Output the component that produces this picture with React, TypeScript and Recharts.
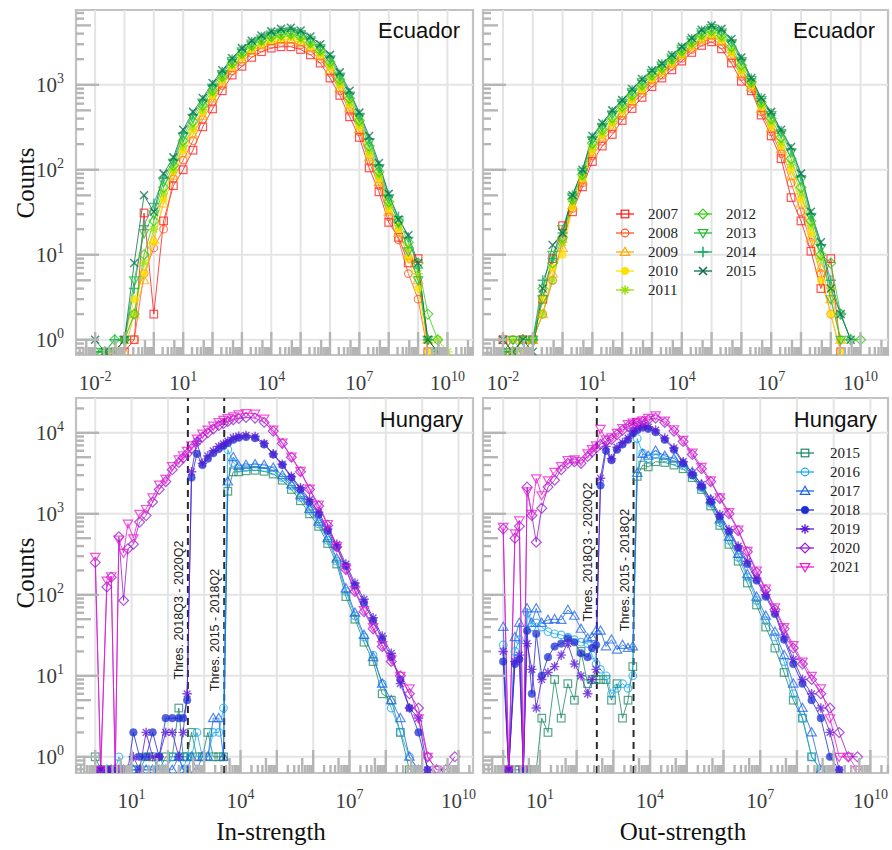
import React from 'react';
import { LineChart, Line, XAxis, YAxis, ReferenceLine, ReferenceArea } from 'recharts';

const SERIF = "'Liberation Serif', 'Times New Roman', 'DejaVu Serif', serif";
const SANS = "'Liberation Sans', Arial, 'DejaVu Sans', sans-serif";
const TICK_COLOR = '#b5b5b5';
const GRID_COLOR = '#e4e4e4';
const FRAME_COLOR = '#c2c2c2';

// ---------------- Ecuador (log10 of strength for each bin) ----------------
const EC_LOGX = [-2, -1.667, -1.333, -1, -0.667, -0.333, 0, 0.333, 0.667, 1, 1.333, 1.667, 2, 2.333, 2.667, 3, 3.333, 3.667, 4, 4.333, 4.667, 5, 5.333, 5.667, 6, 6.333, 6.667, 7, 7.333, 7.667, 8, 8.333, 8.667, 9, 9.333, 9.667, 10];
const EC_YEARS = ['2007', '2008', '2009', '2010', '2011', '2012', '2013', '2014', '2015'];
const EC_COLORS = ['#ff1a1a', '#ff5522', '#ffaa00', '#ffe100', '#99e000', '#33cc11', '#22bb33', '#11aa66', '#0b6e4f'];
const EC_SHAPES = ['square', 'circle', 'triangle', 'dot', 'star', 'diamond', 'tridown', 'plus', 'cross'];

const EC_IN_2007 = [null, null, null, 0, 1, 31, 2, 25, 65, 100, 170, 320, 520, 850, 1300, 1650, 2100, 2450, 2700, 2800, 2800, 2600, 2250, 1800, 1200, 750, 420, 240, 105, 55, 24, 16, 8, 9, 0, null, null];
const EC_IN_2008 = [null, null, 0, 1, 1, 6, 12, 20, 78, 130, 220, 390, 620, 980, 1450, 1850, 2350, 2700, 3000, 3150, 3150, 2950, 2500, 2000, 1400, 850, 490, 280, 125, 65, 28, 15, 6, 3, 0, null, null];
const EC_IN_2009 = [null, null, 0, 0, 2, 5, 15, 40, 85, 155, 260, 430, 690, 1050, 1550, 2000, 2500, 2900, 3200, 3350, 3400, 3150, 2700, 2150, 1500, 920, 540, 300, 140, 72, 32, 18, 10, 5, 1, 0, null];
const EC_IN_2010 = [null, 0, 0, 1, 3, 6, 14, 45, 95, 170, 290, 470, 740, 1120, 1620, 2100, 2600, 3000, 3350, 3500, 3550, 3300, 2800, 2250, 1600, 980, 580, 320, 150, 78, 34, 20, 9, 4, 0, null, null];
const EC_IN_2011 = [null, 0, 0, 1, 2, 8, 20, 52, 100, 190, 320, 510, 790, 1170, 1700, 2200, 2700, 3150, 3500, 3650, 3750, 3450, 2950, 2400, 1700, 1050, 620, 350, 165, 85, 38, 22, 12, 6, 1, 1, 0];
const EC_IN_2012 = [0, 0, 1, 1, 2, 10, 25, 62, 112, 220, 370, 570, 860, 1260, 1800, 2350, 2900, 3350, 3700, 3900, 4000, 3700, 3150, 2550, 1850, 1150, 690, 380, 190, 95, 42, 25, 14, 8, 2, 1, null];
const EC_IN_2013 = [0, 0, 0, 1, 5, 18, 30, 72, 122, 245, 410, 620, 930, 1340, 1900, 2480, 3050, 3500, 3900, 4150, 4250, 3950, 3350, 2700, 2000, 1250, 750, 420, 210, 105, 46, 24, 11, 5, 1, 0, null];
const EC_IN_2014 = [0, 0, 1, 1, 4, 22, 40, 80, 130, 270, 445, 660, 990, 1410, 1980, 2600, 3180, 3650, 4080, 4350, 4480, 4150, 3520, 2850, 2120, 1320, 800, 450, 230, 112, 50, 28, 16, 7, 1, 0, null];
const EC_IN_2015 = [1, 0, 0, 1, 8, 50, 32, 90, 140, 295, 480, 700, 1050, 1480, 2050, 2700, 3300, 3800, 4250, 4550, 4700, 4350, 3700, 3000, 2250, 1400, 850, 470, 250, 120, 52, 26, 17, 8, 1, 0, null];

const EC_OUT_2007 = [1, 0, 1, 1, 3, 9, 22, 32, 63, 125, 190, 260, 380, 525, 710, 950, 1200, 1500, 1900, 2400, 2900, 3200, 2650, 1800, 1100, 850, 440, 250, 135, 47, 25, 11, 4, 9, 0, null, null];
const EC_OUT_2008 = [0, 1, 1, 1, 2, 5, 15, 35, 70, 145, 215, 300, 430, 590, 790, 1050, 1300, 1650, 2050, 2600, 3150, 3500, 2950, 2050, 1250, 900, 480, 280, 155, 70, 32, 14, 6, 2, 0, null, null];
const EC_OUT_2009 = [null, 0, 1, 1, 2, 6, 12, 38, 75, 160, 240, 330, 460, 630, 850, 1120, 1380, 1750, 2200, 2750, 3350, 3750, 3200, 2250, 1350, 950, 520, 310, 175, 85, 40, 16, 7, 3, 1, null, null];
const EC_OUT_2010 = [null, 0, 0, 1, 3, 7, 10, 36, 78, 170, 255, 350, 490, 660, 880, 1170, 1440, 1800, 2250, 2850, 3500, 3900, 3350, 2400, 1450, 990, 550, 330, 190, 100, 45, 18, 5, 2, 0, null, null];
const EC_OUT_2011 = [1, 1, 1, 1, 2, 5, 14, 42, 82, 185, 270, 370, 520, 700, 930, 1230, 1500, 1880, 2350, 2950, 3650, 4050, 3550, 2550, 1550, 1030, 580, 360, 210, 115, 52, 22, 9, 4, 1, null, null];
const EC_OUT_2012 = [0, 0, 1, 1, 4, 8, 16, 45, 88, 205, 295, 410, 560, 760, 1000, 1300, 1580, 2000, 2500, 3150, 3900, 4350, 3800, 2800, 1700, 1080, 620, 400, 240, 135, 62, 25, 10, 8, 2, 1, 1];
const EC_OUT_2013 = [0, 1, 0, 1, 3, 10, 20, 48, 95, 225, 320, 450, 610, 820, 1080, 1380, 1680, 2100, 2650, 3350, 4150, 4650, 4150, 3100, 1900, 1140, 660, 440, 270, 160, 75, 28, 12, 3, 1, null, null];
const EC_OUT_2014 = [0, 0, 1, 1, 5, 9, 18, 50, 98, 240, 340, 480, 640, 860, 1130, 1440, 1740, 2180, 2720, 3450, 4300, 4850, 4350, 3300, 2000, 1180, 690, 460, 285, 175, 85, 30, 13, 5, 2, 1, null];
const EC_OUT_2015 = [1, 0, 1, 0, 4, 13, 18, 50, 100, 250, 355, 500, 660, 890, 1170, 1480, 1780, 2240, 2800, 3550, 4450, 5000, 4550, 3450, 2100, 1200, 700, 480, 295, 185, 90, 32, 14, 4, 2, 1, null];

// ---------------- Hungary ----------------
const HU_LOGX = [0.0, 0.15, 0.32, 0.44, 0.55, 0.65, 0.78, 0.9, 1.05, 1.22, 1.4, 1.58, 1.76, 1.94, 2.12, 2.3, 2.42, 2.53, 2.65, 2.8, 2.95, 3.1, 3.25, 3.4, 3.53, 3.65, 3.8, 3.95, 4.15, 4.4, 4.65, 4.9, 5.15, 5.4, 5.65, 5.9, 6.15, 6.4, 6.65, 6.9, 7.15, 7.4, 7.65, 7.9, 8.15, 8.4, 8.65, 8.9, 9.15, 9.4, 9.65, 9.9];
const HU_YEARS = ['2015', '2016', '2017', '2018', '2019', '2020', '2021'];
const HU_COLORS = ['#1b8a66', '#19aaf0', '#1f66e6', '#1c2fd1', '#5a1ad6', '#9a1ad0', '#f01ad2'];
const HU_SHAPES = ['square', 'circle', 'triangle', 'dot', 'star', 'diamond', 'tridown'];

const HU_IN_2015 = [1, 0, 0, 0, 0, 0, 0, 0, 0, 0, 1, 1, 0, 1, 1, 4, 1, 1, 2, 1, 1, 2, 1, 1, 1, 1900, 3300, 3300, 3400, 3450, 3350, 3100, 2600, 2000, 1450, 1000, 700, 430, 240, 95, 50, 26, 15, 6, 5, 2, 0, null, null, null, null, null];
const HU_IN_2016 = [0, 0, 0, 0, 0, 1, 0, 0, 0, 0, 0, 0, 1, 0, 1, 1, 0, 1, 1, 2, 1, 1, 2, 2, 4, 6200, 4300, 3700, 3750, 3800, 3700, 3400, 2800, 2200, 1600, 1100, 750, 470, 260, 110, 55, 30, 18, 8, 4, 2, 1, 0, null, null, null, null];
const HU_IN_2017 = [0, 0, 0, 0, 0, 0, 0, 0, 0, 0, 0, 0, 0, 0, 0, 1, 0, 0, 1, 0, 1, 1, 3, 3, 1, 2500, 5000, 3900, 4000, 4100, 4000, 3700, 3000, 2300, 1700, 1150, 800, 500, 280, 120, 60, 32, 17, 8, 5, 3, 1, 0, null, null, null, null];
const HU_IN_2018 = [0, 0, 0, 0, 0, 0, 0, 0, 2, 1, 1, 2, 1, 3, 3, 3, 3, 5, 2800, 5500, 4000, 4800, 5600, 6300, 6900, 7500, 8200, 8700, 8900, 8600, 7200, 5400, 4000, 2800, 2000, 1400, 980, 620, 390, 225, 130, 80, 48, 28, 17, 9, 4, 2, 0, null, null, null];
const HU_IN_2019 = [0, 0, 0, 0, 0, 0, 0, 0, 1, 0, 2, 1, 1, 2, 2, 1, 2, 6, 3300, 7800, 4200, 5200, 6000, 6800, 7300, 7900, 8700, 9100, 9300, 9000, 7400, 5500, 4100, 2900, 2100, 1500, 1050, 650, 420, 240, 140, 88, 52, 31, 19, 8, 4, 3, 0, null, null, null];
const HU_IN_2020 = [250, 0, 125, 165, 0, 520, 85, 370, 420, 790, 950, 1400, 2000, 2500, 3500, 4300, 4900, 5500, 6400, 7700, 8900, 10000, 11200, 12300, 13000, 13800, 14500, 15000, 15500, 15200, 13500, 10500, 7400, 5000, 3300, 2000, 1250, 720, 390, 205, 110, 62, 38, 23, 15, 10, 6, 4, 1, 0, 0, 1];
const HU_IN_2021 = [295, 0, 150, 170, 0, 480, 330, 760, 500, 1000, 1150, 1600, 2300, 2700, 3900, 4700, 5300, 6000, 7000, 8500, 9800, 11000, 12300, 13600, 14500, 15200, 16000, 16900, 17500, 17300, 15000, 11000, 7600, 5100, 3400, 2050, 1300, 750, 400, 210, 115, 65, 40, 24, 16, 10, 7, 3, 1, 0, null, null];

const HU_OUT_2015 = [0, 0, 0, 0, 0, 0, 0, 0, 3, 2, 9, 3, 8, 5, 20, 8, 9, 9, 9, 9, 5, 8, 3, 5, 13, 2900, 4000, 3800, 4400, 4300, 4000, 3600, 2800, 2000, 1250, 720, 420, 260, 140, 75, 40, 22, 11, 5, 3, 1, 0, null, null, null, null, null];
const HU_OUT_2016 = [24, 0, 20, 28, 0, 60, 40, 45, 40, 35, 33, 32, 30, 28, 26, 25, 18, 14, 12, 10, 6, 7, 8, 7, 10, 8500, 5600, 4800, 5400, 4900, 4500, 3900, 3000, 2100, 1350, 780, 470, 290, 165, 85, 48, 30, 15, 6, 3, 1, 0, null, null, null, null, null];
const HU_OUT_2017 = [40, 0, 30, 45, 0, 68, 45, 68, 45, 49, 50, 49, 65, 55, 38, 29, 30, 36, 36, 23, 28, 21, 24, 22, 23, 3200, 5500, 5200, 6000, 5200, 4800, 4200, 3300, 2300, 1500, 850, 520, 320, 180, 95, 55, 35, 18, 8, 4, 2, 0, null, null, null, null, null];
const HU_OUT_2018 = [15, 0, 14, 16, 0, 36, 6, 33, 10, 17, 23, 25, 29, 26, 19, 17, 22, 24, 2240, 6000, 4600, 6200, 7200, 8200, 9800, 10800, 11600, 11200, 10200, 8200, 6200, 4200, 3000, 2150, 1400, 920, 600, 380, 240, 150, 95, 58, 28, 14, 8, 5, 3, 1, 0, null, null, null];
const HU_OUT_2019 = [20, 0, 15, 18, 0, 25, 12, 4, 9, 11, 13, 18, 25, 14, 10, 6, 9, 12, 2750, 6800, 4800, 6600, 7600, 8600, 10500, 11500, 12300, 11800, 10800, 8600, 6500, 4400, 3200, 2300, 1500, 980, 640, 400, 260, 160, 100, 62, 30, 16, 9, 6, 4, 2, 0, null, null, null];
const HU_OUT_2020 = [650, 0, 500, 700, 0, 2140, 955, 447, 1175, 2140, 2600, 3500, 4200, 4400, 4200, 5100, 5800, 6500, 7200, 7900, 8300, 9500, 10800, 12000, 12700, 13200, 13800, 14500, 15200, 13400, 10500, 7800, 5400, 3600, 2500, 1550, 1000, 620, 340, 190, 115, 66, 38, 22, 14, 9, 6, 4, 2, 1, 1, null];
const HU_OUT_2021 = [690, 0, 575, 830, 0, 1900, 1000, 2750, 1700, 2600, 3300, 3900, 4600, 4700, 4500, 5600, 6300, 7000, 11200, 8300, 8800, 10000, 11500, 12800, 13400, 13700, 14300, 15300, 16500, 14200, 11100, 8200, 5700, 3800, 2600, 1600, 1050, 640, 350, 200, 120, 70, 40, 24, 15, 10, 7, 3, 1, 1, 0, null];

const HU_THRESHOLD_VALUES = [355, 3550];
const HU_THRESHOLD_LABELS = ['Thres. 2018Q3 - 2020Q2', 'Thres. 2015 - 2018Q2'];

// tick-label exponents
const EC_X_LABELS = [-2, 1, 4, 7, 10];
const HU_X_LABELS = [1, 4, 7, 10];
const EC_Y_LABELS = [0, 1, 2, 3];
const HU_Y_LABELS = [0, 1, 2, 3, 4];

// zero counts are drawn on the floor of the log axis
const EC_ZERO_FLOOR = 0.72;
const HU_ZERO_FLOOR = 0.69;

// ---------------- helpers ----------------
function buildRows(logx: number[], series: (number | null)[][], floor: number) {
  return logx.map((e, i) => {
    const row: any = { x: Math.pow(10, e) };
    series.forEach((s, k) => {
      const v = s[i];
      row['s' + k] = v == null ? null : v === 0 ? floor : v;
    });
    return row;
  });
}

function logTicks(lo: number, hi: number) {
  const out: number[] = [];
  for (let k = Math.floor(lo); k <= Math.ceil(hi); k++) {
    for (let m = 1; m <= 9; m++) {
      const e = k + Math.log10(m);
      if (e >= lo && e <= hi) out.push(Number((m * Math.pow(10, k)).toPrecision(10)));
    }
  }
  return out;
}

function tickInfo(v: number) {
  const e = Math.log10(v);
  const k = Math.floor(e + 1e-9);
  const m = Math.round(v / Math.pow(10, k));
  return { k, m };
}

function Mk({ shape, cx, cy, color, r = 3.8, op = 0.75 }: any) {
  const common = { stroke: color, strokeWidth: 1.2, fill: 'none', opacity: op };
  switch (shape) {
    case 'square':
      return <rect x={cx - r} y={cy - r} width={2 * r} height={2 * r} {...common} />;
    case 'circle':
      return <circle cx={cx} cy={cy} r={r} {...common} />;
    case 'dot':
      return <circle cx={cx} cy={cy} r={r} fill={color} stroke={color} strokeWidth={0.6} opacity={op} />;
    case 'triangle': {
      const h = r * 1.25;
      return <polygon points={`${cx},${cy - h} ${cx - h},${cy + h * 0.72} ${cx + h},${cy + h * 0.72}`} {...common} />;
    }
    case 'tridown': {
      const h = r * 1.25;
      return <polygon points={`${cx},${cy + h} ${cx - h},${cy - h * 0.72} ${cx + h},${cy - h * 0.72}`} {...common} />;
    }
    case 'diamond': {
      const d = r * 1.3;
      return <polygon points={`${cx},${cy - d} ${cx + d},${cy} ${cx},${cy + d} ${cx - d},${cy}`} {...common} />;
    }
    case 'plus': {
      const d = r * 1.35;
      return <path d={`M${cx - d},${cy}H${cx + d}M${cx},${cy - d}V${cy + d}`} stroke={color} strokeWidth={1.5} fill="none" opacity={op} />;
    }
    case 'cross': {
      const d = r * 1.05;
      return <path d={`M${cx - d},${cy - d}L${cx + d},${cy + d}M${cx - d},${cy + d}L${cx + d},${cy - d}`} stroke={color} strokeWidth={1.5} fill="none" opacity={op} />;
    }
    case 'star': {
      const d = r * 1.25;
      const e = d * 0.707;
      return (
        <path
          d={`M${cx - d},${cy}H${cx + d}M${cx},${cy - d}V${cy + d}M${cx - e},${cy - e}L${cx + e},${cy + e}M${cx - e},${cy + e}L${cx + e},${cy - e}`}
          stroke={color}
          strokeWidth={1.4}
          fill="none"
          opacity={op}
        />
      );
    }
    default:
      return null;
  }
}

function PowLabel({ x, y, k, anchor }: any) {
  return (
    <text x={x} y={y} textAnchor={anchor} fontFamily={SERIF} fontSize={21} fill="#3a3a3a">
      10
      <tspan dy={-9} fontSize={14}>
        {String(k)}
      </tspan>
    </text>
  );
}

const makeDot = (shape: string, color: string) => (dp: any) => {
  const { cx, cy, index } = dp;
  if (!Number.isFinite(cx) || !Number.isFinite(cy) || dp.value == null) return <g key={`d${index}`} />;
  return (
    <g key={`d${index}`}>
      <Mk shape={shape} cx={cx} cy={cy} color={color} />
    </g>
  );
};

type Thres = { value: number; label: string; labelY: number };

function Panel(p: any) {
  const { left, top, width, height, plot, xExp, yExp, logx, series, colors, shapes, floor, xLabels, yLabels } = p;
  const thresholds: Thres[] = p.thresholds || [];
  const rows = buildRows(logx, series, floor);
  const yAxisW = plot.x0 - left;
  const xAxisH = top + height - plot.y1;
  const margin = { top: plot.y0 - top, right: left + width - plot.x1, bottom: 0, left: 0 };
  const pl = plot.x0 - left;
  const pb = plot.y1 - top;
  const xTicks = logTicks(xExp[0], xExp[1]);
  const yTicks = logTicks(yExp[0], yExp[1]);
  const xDom = [Math.pow(10, xExp[0]), Math.pow(10, xExp[1])];
  const yDom = [Math.pow(10, yExp[0]), Math.pow(10, yExp[1])];
  const xDecades: number[] = [];
  for (let k = Math.ceil(xExp[0]); k <= Math.floor(xExp[1]); k++) xDecades.push(k);
  const yDecades: number[] = [];
  for (let k = Math.ceil(yExp[0]); k <= Math.floor(yExp[1]); k++) yDecades.push(k);

  const renderX = (tp: any) => {
    const { x, payload, index } = tp;
    const { k, m } = tickInfo(payload.value);
    const len = m === 1 ? 23 : m === 5 ? 15 : 8;
    return (
      <g key={`xt${index}`}>
        <line x1={x} x2={x} y1={pb} y2={pb - len} stroke={TICK_COLOR} strokeWidth={2.4} />
        {m === 1 && xLabels.includes(k) ? <PowLabel x={x} y={pb + 35} k={k} anchor="middle" /> : null}
      </g>
    );
  };
  const renderY = (tp: any) => {
    const { y, payload, index } = tp;
    const { k, m } = tickInfo(payload.value);
    const len = m === 1 ? 23 : m === 5 ? 15 : 8;
    return (
      <g key={`yt${index}`}>
        <line x1={pl} x2={pl + len} y1={y} y2={y} stroke={TICK_COLOR} strokeWidth={2.4} />
        {m === 1 && yLabels && yLabels.includes(k) ? <PowLabel x={pl - 12} y={y + 7} k={k} anchor="end" /> : null}
      </g>
    );
  };

  return (
    <div style={{ position: 'absolute', left, top, width, height }}>
      <LineChart width={width} height={height} data={rows} margin={margin}>
        <XAxis
          dataKey="x"
          type="number"
          scale="log"
          domain={xDom}
          allowDataOverflow
          ticks={xTicks}
          interval={0}
          tick={renderX}
          tickLine={false}
          axisLine={false}
          height={xAxisH}
        />
        <YAxis
          type="number"
          scale="log"
          domain={yDom}
          allowDataOverflow
          ticks={yTicks}
          interval={0}
          tick={renderY}
          tickLine={false}
          axisLine={false}
          width={yAxisW}
        />
        {xDecades.map((k) => (
          <ReferenceLine key={`gx${k}`} x={Math.pow(10, k)} stroke={GRID_COLOR} strokeWidth={2} />
        ))}
        {yDecades.map((k) => (
          <ReferenceLine key={`gy${k}`} y={Math.pow(10, k)} stroke={GRID_COLOR} strokeWidth={2} />
        ))}
        <ReferenceArea
          x1={xDom[0]}
          x2={xDom[1]}
          y1={yDom[0]}
          y2={yDom[1]}
          fill="none"
          fillOpacity={0}
          stroke={FRAME_COLOR}
          strokeWidth={2.2}
          ifOverflow="visible"
        />
        {thresholds.map((t, i) => (
          <ReferenceLine
            key={`th${i}`}
            x={t.value}
            stroke="#2a2a2a"
            strokeWidth={2}
            strokeDasharray="7 5"
            label={{
              content: (lp: any) => {
                const vb = lp.viewBox || {};
                const tx = (vb.x ?? 0) - 5;
                const ty = t.labelY - top;
                return (
                  <text
                    x={tx}
                    y={ty}
                    transform={`rotate(-90 ${tx} ${ty})`}
                    textAnchor="middle"
                    fontFamily={SANS}
                    fontSize={12.5}
                    fill="#222"
                  >
                    {t.label}
                  </text>
                );
              },
            }}
          />
        ))}
        {series.map((_: any, i: number) => (
          <Line
            key={`s${i}`}
            dataKey={`s${i}`}
            stroke={colors[i]}
            strokeWidth={1}
            strokeOpacity={0.8}
            dot={makeDot(shapes[i], colors[i])}
            activeDot={false}
            isAnimationActive={false}
            connectNulls={false}
          />
        ))}
      </LineChart>
    </div>
  );
}

const EC_IN = [EC_IN_2007, EC_IN_2008, EC_IN_2009, EC_IN_2010, EC_IN_2011, EC_IN_2012, EC_IN_2013, EC_IN_2014, EC_IN_2015];
const EC_OUT = [EC_OUT_2007, EC_OUT_2008, EC_OUT_2009, EC_OUT_2010, EC_OUT_2011, EC_OUT_2012, EC_OUT_2013, EC_OUT_2014, EC_OUT_2015];
const HU_IN = [HU_IN_2015, HU_IN_2016, HU_IN_2017, HU_IN_2018, HU_IN_2019, HU_IN_2020, HU_IN_2021];
const HU_OUT = [HU_OUT_2015, HU_OUT_2016, HU_OUT_2017, HU_OUT_2018, HU_OUT_2019, HU_OUT_2020, HU_OUT_2021];

export default function App() {
  return (
    <div style={{ position: 'absolute', left: 0, top: 0, width: 892, height: 850, background: '#fff', overflow: 'hidden' }}>
      <Panel
        left={0}
        top={0}
        width={480}
        height={400}
        plot={{ x0: 76, x1: 473, y0: 10, y1: 355 }}
        xExp={[-2.65, 10.87]}
        yExp={[-0.18, 3.88]}
        logx={EC_LOGX}
        series={EC_IN}
        colors={EC_COLORS}
        shapes={EC_SHAPES}
        floor={EC_ZERO_FLOOR}
        xLabels={EC_X_LABELS}
        yLabels={EC_Y_LABELS}
      />
      <Panel
        left={478}
        top={0}
        width={414}
        height={400}
        plot={{ x0: 483, x1: 888, y0: 10, y1: 355 }}
        xExp={[-2.67, 10.92]}
        yExp={[-0.18, 3.88]}
        logx={EC_LOGX}
        series={EC_OUT}
        colors={EC_COLORS}
        shapes={EC_SHAPES}
        floor={EC_ZERO_FLOOR}
        xLabels={EC_X_LABELS}
        yLabels={null}
      />
      <Panel
        left={0}
        top={395}
        width={480}
        height={455}
        plot={{ x0: 76, x1: 473, y0: 398, y1: 773 }}
        xExp={[-0.53, 10.4]}
        yExp={[-0.2, 4.43]}
        logx={HU_LOGX}
        series={HU_IN}
        colors={HU_COLORS}
        shapes={HU_SHAPES}
        floor={HU_ZERO_FLOOR}
        xLabels={HU_X_LABELS}
        yLabels={HU_Y_LABELS}
        thresholds={[
          { value: HU_THRESHOLD_VALUES[0], label: HU_THRESHOLD_LABELS[0], labelY: 610 },
          { value: HU_THRESHOLD_VALUES[1], label: HU_THRESHOLD_LABELS[1], labelY: 630 },
        ]}
      />
      <Panel
        left={478}
        top={395}
        width={414}
        height={455}
        plot={{ x0: 483, x1: 888, y0: 398, y1: 773 }}
        xExp={[-0.55, 10.48]}
        yExp={[-0.2, 4.43]}
        logx={HU_LOGX}
        series={HU_OUT}
        colors={HU_COLORS}
        shapes={HU_SHAPES}
        floor={HU_ZERO_FLOOR}
        xLabels={HU_X_LABELS}
        yLabels={null}
        thresholds={[
          { value: HU_THRESHOLD_VALUES[0], label: HU_THRESHOLD_LABELS[0], labelY: 552 },
          { value: HU_THRESHOLD_VALUES[1], label: HU_THRESHOLD_LABELS[1], labelY: 570 },
        ]}
      />
      <svg width={892} height={850} style={{ position: 'absolute', left: 0, top: 0, pointerEvents: 'none' }}>
        <text x={460} y={38} textAnchor="end" fontFamily={SANS} fontSize={22} fill="#111">Ecuador</text>
        <text x={875} y={38} textAnchor="end" fontFamily={SANS} fontSize={22} fill="#111">Ecuador</text>
        <text x={463} y={427} textAnchor="end" fontFamily={SANS} fontSize={22} fill="#111">Hungary</text>
        <text x={877} y={427} textAnchor="end" fontFamily={SANS} fontSize={22} fill="#111">Hungary</text>
        <text x={34} y={183} transform="rotate(-90 34 183)" textAnchor="middle" fontFamily={SERIF} fontSize={25} fill="#111">Counts</text>
        <text x={34} y={573} transform="rotate(-90 34 573)" textAnchor="middle" fontFamily={SERIF} fontSize={25} fill="#111">Counts</text>
        <text x={271} y={840} textAnchor="middle" fontFamily={SERIF} fontSize={25} fill="#111">In-strength</text>
        <text x={683} y={840} textAnchor="middle" fontFamily={SERIF} fontSize={25} fill="#111">Out-strength</text>
        {EC_YEARS.map((yr, i) => {
          const col = i < 5 ? 0 : 1;
          const row = i < 5 ? i : i - 5;
          const mx = col === 0 ? 625 : 703;
          const my = 214 + row * 19;
          return (
            <g key={`ecl${yr}`}>
              <line x1={mx - 9} x2={mx + 9} y1={my} y2={my} stroke={EC_COLORS[i]} strokeWidth={1.3} />
              <Mk shape={EC_SHAPES[i]} cx={mx} cy={my} color={EC_COLORS[i]} op={1} />
              <text x={mx + 23} y={my + 5} fontFamily={SERIF} fontSize={15} fill="#222">{yr}</text>
            </g>
          );
        })}
        {HU_YEARS.map((yr, i) => {
          const mx = 805;
          const my = 453 + i * 19;
          return (
            <g key={`hul${yr}`}>
              <line x1={mx - 9} x2={mx + 9} y1={my} y2={my} stroke={HU_COLORS[i]} strokeWidth={1.3} />
              <Mk shape={HU_SHAPES[i]} cx={mx} cy={my} color={HU_COLORS[i]} op={1} />
              <text x={mx + 25} y={my + 5} fontFamily={SERIF} fontSize={15} fill="#222">{yr}</text>
            </g>
          );
        })}
      </svg>
    </div>
  );
}
